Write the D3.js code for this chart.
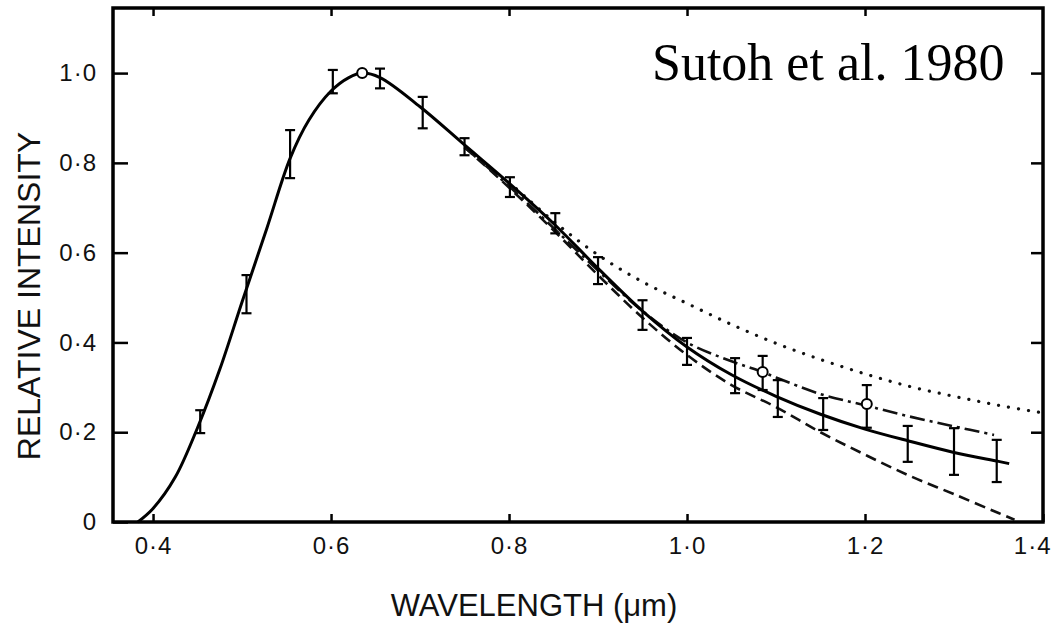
<!DOCTYPE html>
<html><head><meta charset="utf-8">
<script src="https://cdn.jsdelivr.net/npm/d3@7"></script>
<style>body{margin:0;background:#fff}svg{display:block}</style>
</head><body>
<svg id="chart" width="1051" height="624"></svg>
<script>
// ---- data ----
const solidX = [0.383, 0.40, 0.425, 0.45, 0.475, 0.50, 0.528, 0.554, 0.575, 0.60, 0.62, 0.635, 0.655, 0.70, 0.75, 0.80, 0.85, 0.90, 0.95, 1.00, 1.05, 1.10, 1.15, 1.20, 1.25, 1.30, 1.35, 1.362];
const solidY = [0.0, 0.03, 0.10, 0.21, 0.34, 0.49, 0.655, 0.81, 0.895, 0.96, 0.99, 1.0, 0.99, 0.925, 0.84, 0.755, 0.665, 0.565, 0.47, 0.39, 0.328, 0.28, 0.24, 0.207, 0.18, 0.155, 0.135, 0.13];

const dottedX = [0.80, 0.85, 0.90, 0.95, 1.00, 1.05, 1.10, 1.15, 1.20, 1.25, 1.30, 1.35, 1.40];
const dottedY = [0.757, 0.67, 0.595, 0.535, 0.487, 0.44, 0.398, 0.362, 0.33, 0.302, 0.28, 0.26, 0.243];

const dashedX = [0.75, 0.80, 0.85, 0.90, 0.95, 1.00, 1.05, 1.10, 1.15, 1.20, 1.25, 1.30, 1.35, 1.368];
const dashedY = [0.835, 0.745, 0.65, 0.55, 0.455, 0.372, 0.305, 0.256, 0.2, 0.15, 0.103, 0.062, 0.02, 0.005];

const dashDotX = [0.75, 0.80, 0.85, 0.90, 0.95, 1.00, 1.05, 1.085, 1.10, 1.15, 1.20, 1.25, 1.30, 1.345];
const dashDotY = [0.835, 0.748, 0.655, 0.56, 0.47, 0.40, 0.358, 0.334, 0.322, 0.285, 0.26, 0.235, 0.213, 0.194];

const errX  = [0.453, 0.505, 0.554, 0.602, 0.655, 0.703, 0.75, 0.801, 0.852, 0.90, 0.95, 1.00, 1.054, 1.102, 1.153, 1.248, 1.30, 1.348];
const errLo = [0.198, 0.465, 0.766, 0.955, 0.966, 0.877, 0.817, 0.724, 0.643, 0.53, 0.428, 0.35, 0.287, 0.234, 0.205, 0.134, 0.105, 0.089];
const errHi = [0.249, 0.55, 0.873, 1.007, 1.01, 0.947, 0.855, 0.768, 0.688, 0.59, 0.494, 0.41, 0.365, 0.316, 0.276, 0.214, 0.209, 0.183];

const circX  = [0.635, 1.085, 1.202];
const circY  = [1.0, 0.334, 0.263];
const circLo = [1.0, 0.294, 0.21];
const circHi = [1.0, 0.37, 0.305];

const xTicks = [0.4, 0.6, 0.8, 1.0, 1.2, 1.4];
const yTicks = [0, 0.2, 0.4, 0.6, 0.8, 1.0];
const xTitle = "WAVELENGTH (\u03bcm)";
const yTitle = "RELATIVE  INTENSITY";
const note = "Sutoh et al. 1980";

// ---- drawing ----
const svg = d3.select('#chart');
const x = d3.scaleLinear().domain([0.355, 1.4]).range([113, 1043]);
const y = d3.scaleLinear().domain([0, 1.145]).range([522, 8]);
const fmt = d => d === 0 ? "0" : d.toFixed(1).replace('.', '\u00b7');
const sans = "'Liberation Sans', Arial, sans-serif";

function styleAxis(g) {
  g.select('.domain').remove();
  g.selectAll('.tick line').attr('stroke', '#000').attr('stroke-width', 2.5);
  g.selectAll('.tick text').attr('font-family', sans).attr('font-size', 24).attr('fill', '#111').attr('letter-spacing', 1);
}

const xAxisG = svg.append('g').attr('transform', `translate(0,${y(0)})`)
  .call(d3.axisBottom(x).tickValues(xTicks).tickFormat(fmt).tickSizeInner(-8).tickSizeOuter(0).tickPadding(15))
  .call(styleAxis);
// keep the last label inside the picture
xAxisG.selectAll('.tick').filter(d => d === 1.4).select('text').attr('text-anchor', 'end').attr('x', 8);

svg.append('g').attr('transform', `translate(0,${y(1.145)})`)
  .call(d3.axisTop(x).tickValues(xTicks.slice(0, 5)).tickFormat('').tickSizeInner(-8).tickSizeOuter(0))
  .call(styleAxis);
svg.append('g').attr('transform', `translate(${x(0.355)},0)`)
  .call(d3.axisLeft(y).tickValues(yTicks).tickFormat(fmt).tickSizeInner(-15).tickSizeOuter(0).tickPadding(16))
  .call(styleAxis);
svg.append('g').attr('transform', `translate(${x(1.4)},0)`)
  .call(d3.axisRight(y).tickValues(yTicks.slice(1)).tickFormat('').tickSizeInner(-12).tickSizeOuter(0))
  .call(styleAxis);

// frame
svg.append('rect')
  .attr('x', x(0.355)).attr('y', y(1.145))
  .attr('width', x(1.4) - x(0.355)).attr('height', y(0) - y(1.145))
  .attr('fill', 'none').attr('stroke', '#000').attr('stroke-width', 3.5);

const line = d3.line().x(d => x(d[0])).y(d => y(d[1])).curve(d3.curveCatmullRom.alpha(0.5));
const pts = (xs, ys) => xs.map((v, i) => [v, ys[i]]);

svg.append('path').datum(pts(dottedX, dottedY)).attr('d', line)
  .attr('fill', 'none').attr('stroke', '#111').attr('stroke-width', 3.2)
  .attr('stroke-linecap', 'round').attr('stroke-dasharray', '0.1 10');
svg.append('path').datum(pts(dashedX, dashedY)).attr('d', line)
  .attr('fill', 'none').attr('stroke', '#111').attr('stroke-width', 2.6)
  .attr('stroke-dasharray', '11 6');
svg.append('path').datum(pts(dashDotX, dashDotY)).attr('d', line)
  .attr('fill', 'none').attr('stroke', '#111').attr('stroke-width', 2.6)
  .attr('stroke-dasharray', '15 5 3 5');
svg.append('path').datum(pts(solidX, solidY)).attr('d', line)
  .attr('fill', 'none').attr('stroke', '#000').attr('stroke-width', 3);

// error bars
const eb = svg.append('g').attr('stroke', '#000').attr('stroke-width', 2.2);
const bars = errX.map((v, i) => ({x: v, lo: errLo[i], hi: errHi[i]}))
  .concat(circX.map((v, i) => ({x: v, lo: circLo[i], hi: circHi[i]})).filter(d => d.hi > d.lo));
bars.forEach(d => {
  eb.append('line').attr('x1', x(d.x)).attr('x2', x(d.x)).attr('y1', y(d.lo)).attr('y2', y(d.hi));
  eb.append('line').attr('x1', x(d.x) - 5).attr('x2', x(d.x) + 5).attr('y1', y(d.lo)).attr('y2', y(d.lo));
  eb.append('line').attr('x1', x(d.x) - 5).attr('x2', x(d.x) + 5).attr('y1', y(d.hi)).attr('y2', y(d.hi));
});
svg.append('g').selectAll('circle').data(circX.map((v, i) => [v, circY[i]])).join('circle')
  .attr('cx', d => x(d[0])).attr('cy', d => y(d[1])).attr('r', 5)
  .attr('fill', '#fff').attr('stroke', '#000').attr('stroke-width', 2);

// titles
svg.append('text').attr('x', 534).attr('y', 616).attr('text-anchor', 'middle')
  .attr('font-family', sans).attr('font-size', 31).attr('fill', '#111').text(xTitle);
svg.append('text').attr('transform', 'translate(40,296) rotate(-90)').attr('text-anchor', 'middle')
  .attr('font-family', sans).attr('font-size', 32).attr('fill', '#111').text(yTitle);
svg.append('text').attr('x', 652).attr('y', 80)
  .attr('font-family', "'Liberation Serif', 'Times New Roman', serif").attr('font-size', 52).attr('fill', '#000').text(note);
</script>
</body></html>
